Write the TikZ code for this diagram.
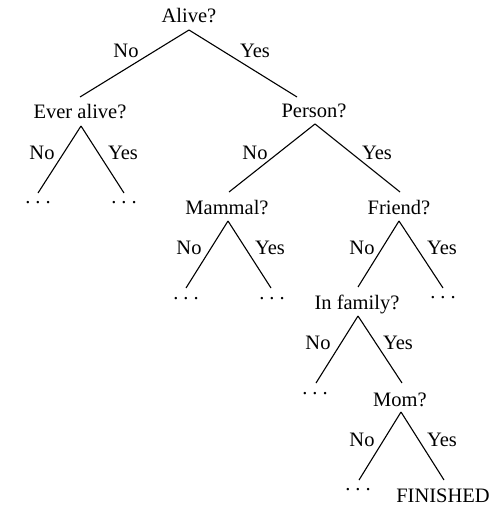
\documentclass[tikz,border=0pt]{standalone}
\usepackage{fontspec}
\setmainfont{Liberation Serif}
\begin{document}
\begin{tikzpicture}[x=1pt,y=-1pt,
  every node/.style={font=\fontsize{20.5}{24}\selectfont,inner sep=0pt,anchor=base},
  edge/.style={line width=1.1pt},
  q/.style={},
  lbl/.style={},
  leaf/.style={}]
\useasboundingbox (0,0) rectangle (495,505);
% questions
\node[q] (alive)  at (189,23)  {Alive?};
\node[q] (ever)   at (80,119)  {Ever alive?};
\node[q] (person) at (314,118) {Person?};
\node[q] (mammal) at (227,214) {Mammal?};
\node[q] (friend) at (399,214) {Friend?};
\node[q] (family) at (357,309) {In family?};
\node[q] (mom)    at (400,406) {Mom?};
\node[q] (fin)    at (443,502) {FINISHED};
% leaves
\node[leaf] (l1) at (38,203)  {.\kern5pt.\kern5pt.};
\node[leaf] (l2) at (124,203) {.\kern5pt.\kern5pt.};
\node[leaf] (l3) at (186,299) {.\kern5pt.\kern5pt.};
\node[leaf] (l4) at (272,299) {.\kern5pt.\kern5pt.};
\node[leaf] (l5) at (443,298) {.\kern5pt.\kern5pt.};
\node[leaf] (l6) at (315,394) {.\kern5pt.\kern5pt.};
\node[leaf] (l7) at (358,490) {.\kern5pt.\kern5pt.};
% edges
\draw[edge] ([yshift=-7pt]alive.base) -- ([yshift=22pt]ever.base);
\draw[edge] ([yshift=-7pt]alive.base) -- ([xshift=-17pt,yshift=21pt]person.base);
\draw[edge] ([xshift=1pt,yshift=-7pt]ever.base) -- ([yshift=10pt]l1.base);
\draw[edge] ([xshift=1pt,yshift=-7pt]ever.base) -- ([yshift=10pt]l2.base);
\draw[edge] ([xshift=1pt,yshift=-6pt]person.base) -- ([xshift=2pt,yshift=22pt]mammal.base);
\draw[edge] ([xshift=1pt,yshift=-6pt]person.base) -- ([xshift=1pt,yshift=22pt]friend.base);
\draw[edge] ([xshift=1pt,yshift=-7pt]mammal.base) -- ([yshift=11pt]l3.base);
\draw[edge] ([xshift=1pt,yshift=-7pt]mammal.base) -- ([xshift=-1pt,yshift=11pt]l4.base);
\draw[edge] ([yshift=-7pt]friend.base) -- ([xshift=1pt,yshift=22pt]family.base);
\draw[edge] ([yshift=-7pt]friend.base) -- ([yshift=10pt]l5.base);
\draw[edge] ([xshift=1pt,yshift=-7pt]family.base) -- ([xshift=1pt,yshift=11pt]l6.base);
\draw[edge] ([xshift=1pt,yshift=-7pt]family.base) -- ([xshift=2pt,yshift=23pt]mom.base);
\draw[edge] ([xshift=1pt,yshift=-6pt]mom.base) -- ([xshift=1pt,yshift=10pt]l7.base);
\draw[edge] ([xshift=1pt,yshift=-6pt]mom.base) -- ([xshift=1pt,yshift=22pt]fin.base);
% labels
\node[lbl] (n1) at (126,58)  {No};
\node[lbl] (y1) at (255,58)  {Yes};
\node[lbl] (n2) at (42,159)  {No};
\node[lbl] (y2) at (123,159) {Yes};
\node[lbl] (n3) at (255,159) {No};
\node[lbl] (y3) at (377,159) {Yes};
\node[lbl] (n4) at (189,254) {No};
\node[lbl] (y4) at (270,254) {Yes};
\node[lbl] (n5) at (362,254) {No};
\node[lbl] (y5) at (442,254) {Yes};
\node[lbl] (n6) at (318,349) {No};
\node[lbl] (y6) at (398,349) {Yes};
\node[lbl] (n7) at (362,446) {No};
\node[lbl] (y7) at (442,446) {Yes};
\end{tikzpicture}
\end{document}
